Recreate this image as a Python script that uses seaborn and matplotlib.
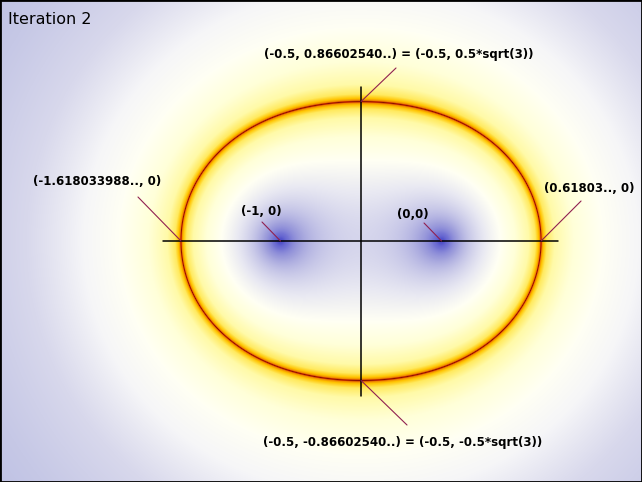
"""
Iteration 2 of z -> z^2 + c (z0 = 0): colour by |c^2 + c|, the unit level set glows.
"""

import numpy as np
import matplotlib
matplotlib.use('Agg')
import matplotlib.pyplot as plt
import seaborn as sns

# window on the complex plane
X_MIN, X_MAX = -2.742, 1.245
Y_MIN, Y_MAX = -1.497, 1.497
W_PX, H_PX = 642, 482
PX = (X_MAX - X_MIN) / W_PX  # data units per pixel

# annotated points
point_x = [-0.5, -0.5, -1.618033988, 0.6180339887, -1.0, 0.0]
point_y = [0.8660254, -0.8660254, 0.0, 0.0, 0.0, 0.0]
point_labels = [
    "(-0.5, 0.86602540..) = (-0.5, 0.5*sqrt(3))",
    "(-0.5, -0.86602540..) = (-0.5, -0.5*sqrt(3))",
    "(-1.618033988.., 0)",
    "(0.61803.., 0)",
    "(-1, 0)",
    "(0,0)",
]
# leader line end and text centre, pixel offsets from the point (dx right, dy up)
line_off = [(35, 33.6), (46, -44.6), (-43, 44), (40, 40), (-18.5, 19), (-17.5, 18)]
text_off = [(38, 46.6), (42, -61.6), (-83.5, 60), (48, 53), (-19.5, 30), (-28.5, 27)]

# colour ramp over t = ln|c^2 + c|
ramp_t = [-6, -4, -3, -2.2, -1.6, -1.1, -0.7, -0.4, -0.18, -0.08, -0.035, -0.015, -0.006, 0,
          0.006, 0.015, 0.035, 0.08, 0.18, 0.4, 0.7, 1.0, 1.4, 1.8, 2.2, 3]
ramp_c = ['#4444c4', '#5656cc', '#7474d4', '#a0a0dc', '#c8c8e8', '#e8e8f2', '#fffff4',
          '#ffffd8', '#fffaa8', '#ffea60', '#ffc400', '#f08c00', '#c83400', '#8a1000',
          '#c83400', '#f08c00', '#ffc400', '#ffea60', '#fffaa8', '#ffffd8', '#fffff4',
          '#f6f6f8', '#d8d8ec', '#c6c8e6', '#b8bce2', '#a8ace0']


def field():
    xs = X_MIN + (np.arange(W_PX) + 0.5) * PX
    ys = Y_MAX - (np.arange(H_PX) + 0.5) * PX
    xx, yy = np.meshgrid(xs, ys)
    c = xx + 1j * yy
    v = c * c + c
    t = np.log(np.abs(v) + 1e-12)
    rgb = np.array([matplotlib.colors.to_rgb(h) for h in ramp_c])
    img = np.stack([np.interp(t, ramp_t, rgb[:, k]) for k in range(3)], axis=-1)
    return img


def main():
    sns.set_theme(style="white")
    plt.rcParams['font.family'] = ['DejaVu Sans']

    fig = plt.figure(figsize=(6.42, 4.82), dpi=100)
    ax = fig.add_axes([0, 0, 1, 1])
    ax.imshow(field(), extent=[X_MIN, X_MAX, Y_MIN, Y_MAX], origin='upper',
              interpolation='nearest', aspect='auto', zorder=0)

    # cross hairs
    sns.lineplot(x=[-1.73, 0.724], y=[0, 0], color='black', lw=1.1, ax=ax,
                 sort=False, zorder=2)
    sns.lineplot(x=[-0.5, -0.5], y=[0.957, -0.963], color='black', lw=1.1, ax=ax,
                 sort=False, orient='y', zorder=2)

    for px, py, lab, (lx, ly), (tx, ty) in zip(point_x, point_y, point_labels,
                                                line_off, text_off):
        ax.plot([px, px + lx * PX], [py, py + ly * PX], color='#902050', lw=0.8,
                zorder=3)
        ax.text(px + tx * PX, py + ty * PX, lab, ha='center', va='center',
                fontsize=8.5, fontweight='bold', color='black', zorder=4)

    ax.text(X_MIN + 8 * PX, Y_MAX - 20 * PX, "Iteration 2", ha='left', va='center',
            fontsize=11.5, color='black')

    ax.set_xlim(X_MIN, X_MAX)
    ax.set_ylim(Y_MIN, Y_MAX)
    ax.set_xticks([])
    ax.set_yticks([])
    for s in ax.spines.values():
        s.set_visible(True)
        s.set_color('black')
        s.set_linewidth(2)

    plt.savefig("out.png", dpi=100)
    plt.close()


if __name__ == "__main__":
    main()
